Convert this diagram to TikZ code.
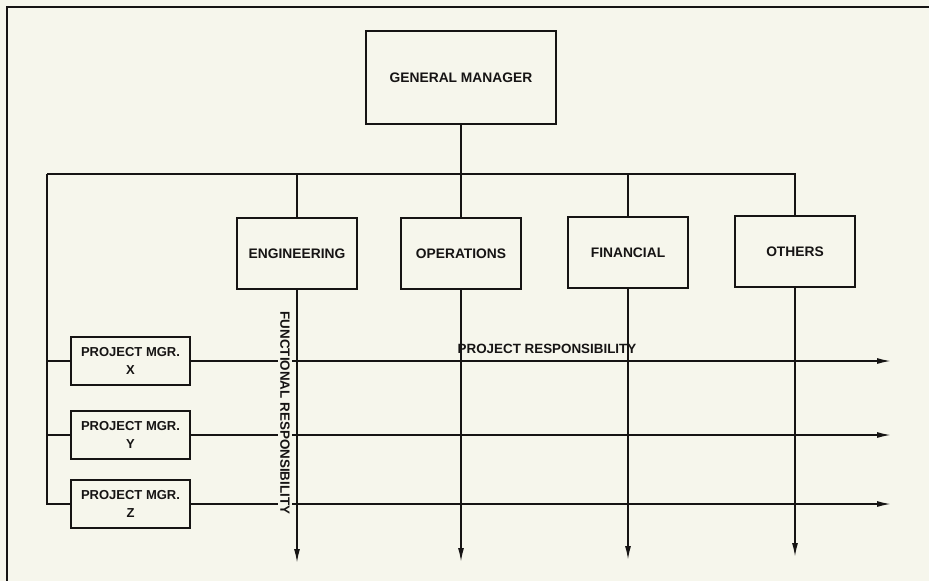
\documentclass[tikz,border=0pt]{standalone}
\usepackage{fontspec}
\setmainfont{Liberation Sans}
\usetikzlibrary{arrows.meta}
\definecolor{paper}{RGB}{246,246,236}
\definecolor{ink}{RGB}{22,20,20}
\begin{document}
\begin{tikzpicture}[x=1pt,y=-1pt,
  box/.style={draw=ink,line width=1.5pt,minimum width=120pt,minimum height=71pt,inner sep=0pt,font=\fontsize{13.8}{15}\selectfont\bfseries,text=ink},
  pmbox/.style={draw=ink,line width=1.5pt,minimum width=119pt,minimum height=48pt,inner sep=0pt,align=center,font=\fontsize{13}{18}\selectfont\bfseries,text=ink},
  bus/.style={draw=ink,line width=2.2pt},
  flow/.style={draw=ink,line width=1.6pt,-{Latex[length=14pt,width=6pt]}},
  lbl/.style={font=\fontsize{13.4}{15}\selectfont\bfseries,text=ink,inner sep=1pt}]
\fill[paper] (0,0) rectangle (929,581);
\useasboundingbox (0,0) rectangle (929,581);
\draw[ink,line width=2.2pt] (929,7) -- (7,7) -- (7,581);

\node[box,minimum width=190pt,minimum height=93pt] (gm) at (461,77.5) {GENERAL MANAGER};
\node[box] (eng) at (297,253.5) {ENGINEERING};
\node[box] (ops) at (461,253.5) {OPERATIONS};
\node[box] (fin) at (628,252.5) {FINANCIAL};
\node[box] (oth) at (795,251.5) {OTHERS};

\node[pmbox] (pmx) at (130.5,361) {PROJECT MGR.\\X};
\node[pmbox] (pmy) at (130.5,435) {PROJECT MGR.\\Y};
\node[pmbox] (pmz) at (130.5,504) {PROJECT MGR.\\Z};

\coordinate (bl) at (47,174);
\draw[bus] (bl) -- (oth.north |- bl) -- (oth.north);
\draw[bus] (gm.south) -- (gm.south |- bl);
\draw[bus] (eng.north |- bl) -- (eng.north);
\draw[bus] (ops.north |- bl) -- (ops.north);
\draw[bus] (fin.north |- bl) -- (fin.north);
\draw[bus] (bl) |- (pmz.west);
\draw[bus] (pmx.west -| bl) -- (pmx.west);
\draw[bus] (pmy.west -| bl) -- (pmy.west);

\coordinate (tx) at (891,361);
\coordinate (ty) at (891,435);
\coordinate (tz) at (891,504);
\draw[flow] (pmx.east) -- (tx);
\draw[flow] (pmy.east) -- (ty);
\draw[flow] (pmz.east) -- (tz);

\coordinate (te) at (297,563);
\coordinate (to) at (461,562);
\coordinate (tf) at (628,560);
\coordinate (tt) at (795,557);
\draw[flow] (eng.south) -- (te);
\draw[flow] (ops.south) -- (to);
\draw[flow] (fin.south) -- (tf);
\draw[flow] (oth.south) -- (tt);

\node[lbl,fill=paper,rotate=-90,inner sep=2pt] (fr) at (285,413) {FUNCTIONAL RESPONSIBILITY};
\node[lbl] (pr) at (547,349) {PROJECT RESPONSIBILITY};
\end{tikzpicture}
\end{document}
